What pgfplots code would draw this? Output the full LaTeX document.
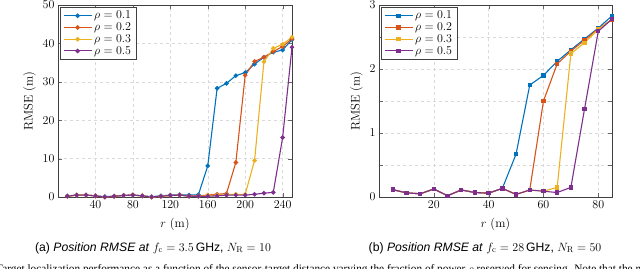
\documentclass[border=0pt]{standalone}
\usepackage{pgfplots}
\pgfplotsset{compat=1.18}
\usepackage{fontspec}
\newfontfamily\capsans{Liberation Sans}
\newfontfamily\capserif{Liberation Serif}
\definecolor{mblue}{rgb}{0,0.447,0.741}
\definecolor{morange}{rgb}{0.85,0.325,0.098}
\definecolor{myellow}{rgb}{0.929,0.694,0.125}
\definecolor{mpurple}{rgb}{0.494,0.184,0.556}
\pgfplotsset{
  myax/.style={
    scale only axis,
    height=192pt,
    axis line style={black!75},
    tick style={black!60},
    grid=major,
    major grid style={dashed,gray!30},
    ymin=0,
    tick label style={font=\fontsize{12}{14}\selectfont},
    label style={font=\fontsize{12.5}{15}\selectfont},
    xlabel style={yshift=-3pt},
    ylabel={RMSE (m)},
    xlabel={$r$ (m)},
    legend cell align=left,
    legend style={at={(0.008,0.99)},anchor=north west,draw=black!75,font=\fontsize{12.5}{15}\selectfont,row sep=-1.5pt},
    legend image code/.code={\draw[mark repeat=2,mark phase=2] plot coordinates {(0pt,0pt)(14pt,0pt)(28pt,0pt)};},
    every axis plot/.append style={line width=1.1pt},
  }
}
\begin{document}
\begin{tikzpicture}
\useasboundingbox (0,0) rectangle (640pt,-268pt);
\clip (0,0) rectangle (640pt,-268pt);
\begin{axis}[myax, at={(58pt,-197pt)}, anchor=south west, width=234pt,
  xmin=0, xmax=250, ymax=50,
  xtick={40,80,...,240}, ytick={0,10,...,50},
  every axis plot/.append style={mark=*, mark size=1.7pt}]
\addplot[mblue] coordinates {(10,0.3)(20,0.5)(30,0.5)(40,0.3)(50,0.1)(60,0.2)(70,0.4)(80,0.5)(90,0.3)(100,0.1)(110,0.3)(120,0.5)(130,0.6)(140,0.5)(150,0.6)(160,8.1)(170,28.3)(180,29.6)(190,31.6)(200,32.4)(210,34.6)(220,36.4)(230,37.7)(240,38.3)(250,41.0)};
\addlegendentry{$\rho = 0.1$}
\addplot[morange] coordinates {(10,0.2)(20,0.5)(30,0.5)(40,0.3)(50,0.0)(60,0.2)(70,0.4)(80,0.5)(90,0.3)(100,0.0)(110,0.2)(120,0.4)(130,0.5)(140,0.3)(150,0.3)(160,0.5)(170,0.7)(180,0.9)(190,9.0)(200,31.7)(210,35.3)(220,36.4)(230,37.9)(240,39.2)(250,41.2)};
\addlegendentry{$\rho = 0.2$}
\addplot[myellow] coordinates {(10,0.2)(20,0.5)(30,0.5)(40,0.3)(50,0.0)(60,0.2)(70,0.4)(80,0.5)(90,0.3)(100,0.0)(110,0.2)(120,0.4)(130,0.5)(140,0.2)(150,0.2)(160,0.4)(170,0.5)(180,0.6)(190,0.7)(200,0.7)(210,9.5)(220,35.2)(230,38.7)(240,39.8)(250,41.6)};
\addlegendentry{$\rho = 0.3$}
\addplot[mpurple] coordinates {(10,0.2)(20,0.5)(30,0.5)(40,0.3)(50,0.0)(60,0.2)(70,0.4)(80,0.5)(90,0.3)(100,0.0)(110,0.2)(120,0.4)(130,0.5)(140,0.2)(150,0.2)(160,0.2)(170,0.3)(180,0.5)(190,0.5)(200,0.5)(210,0.7)(220,1.0)(230,1.2)(240,15.5)(250,39.0)};
\addlegendentry{$\rho = 0.5$}
\end{axis}
\begin{axis}[myax, at={(379pt,-197pt)}, anchor=south west, width=233pt,
  xmin=0, xmax=85, ymax=3,
  xtick={20,40,60,80}, ytick={0,0.5,...,3}, yticklabels={0,,1,,2,,3},
  every axis plot/.append style={mark=square*, mark size=1.6pt}]
\addplot[mblue] coordinates {(5,0.115)(10,0.065)(15,0.05)(20,0.125)(25,0.02)(30,0.11)(35,0.07)(40,0.06)(45,0.135)(50,0.67)(55,1.75)(60,1.9)(65,2.12)(70,2.3)(75,2.47)(80,2.64)(85,2.83)};
\addlegendentry{$\rho = 0.1$}
\addplot[morange] coordinates {(5,0.115)(10,0.065)(15,0.05)(20,0.125)(25,0.02)(30,0.11)(35,0.07)(40,0.06)(45,0.135)(50,0.04)(55,0.11)(60,1.5)(65,2.08)(70,2.28)(75,2.45)(80,2.63)(85,2.77)};
\addlegendentry{$\rho = 0.2$}
\addplot[myellow] coordinates {(5,0.115)(10,0.065)(15,0.05)(20,0.125)(25,0.02)(30,0.11)(35,0.07)(40,0.06)(45,0.135)(50,0.04)(55,0.11)(60,0.09)(65,0.15)(70,2.24)(75,2.41)(80,2.62)(85,2.78)};
\addlegendentry{$\rho = 0.3$}
\addplot[mpurple] coordinates {(5,0.115)(10,0.065)(15,0.05)(20,0.125)(25,0.02)(30,0.11)(35,0.07)(40,0.06)(45,0.135)(50,0.04)(55,0.11)(60,0.09)(65,0.07)(70,0.15)(75,1.38)(80,2.59)(85,2.78)};
\addlegendentry{$\rho = 0.5$}
\end{axis}
\node[anchor=base] at (153pt,-251pt) {\capsans\fontsize{12.2}{14}\selectfont (a) \textit{Position RMSE at} $f_\mathrm{c} = 3.5\,$GHz, $N_\mathrm{R} = 10$};
\node[anchor=base] at (485pt,-251pt) {\capsans\fontsize{12.2}{14}\selectfont (b) \textit{Position RMSE at} $f_\mathrm{c} = 28\,$GHz, $N_\mathrm{R} = 50$};
\node[anchor=base west, inner sep=0pt] at (-4pt,-272pt) {\capserif\fontsize{11.3}{14}\selectfont Target localization performance as a function of the sensor-target distance varying the fraction of power $\rho$ reserved for sensing. Note that the maximum};
\end{tikzpicture}
\end{document}
